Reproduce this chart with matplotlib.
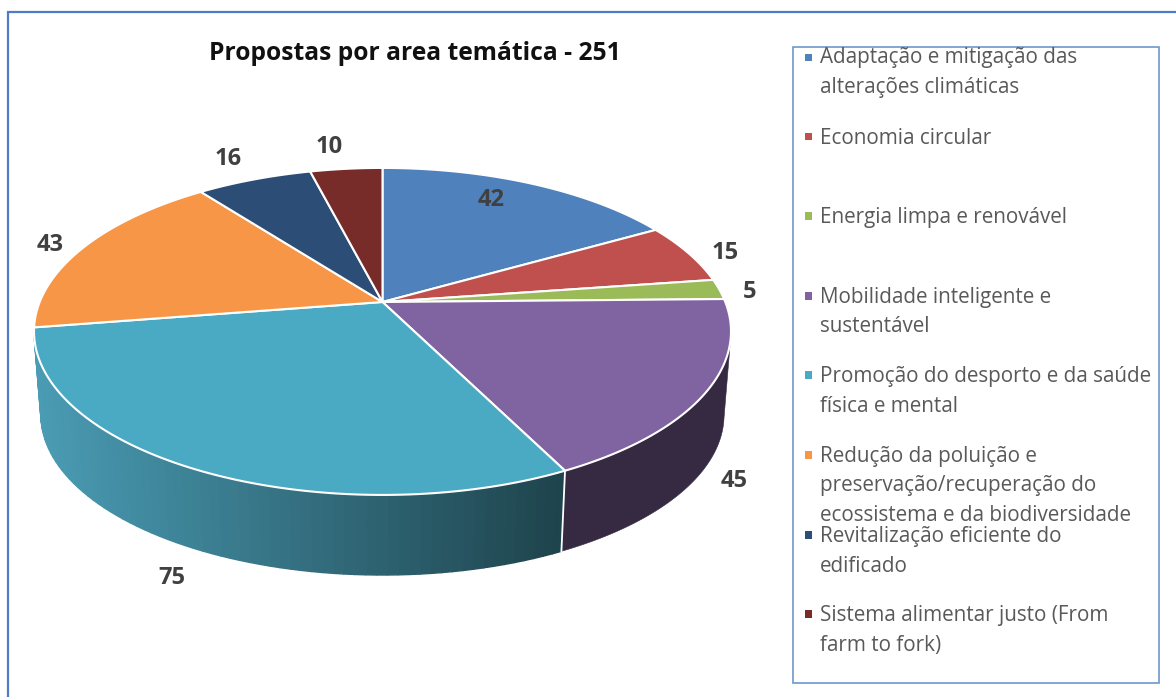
import numpy as np
import matplotlib
matplotlib.use("Agg")
import matplotlib.pyplot as plt
from matplotlib.colors import to_rgb
from matplotlib.patches import Polygon, Rectangle

# ---- data ----
title = "Propostas por area temática - 251"
categories = [
    "Adaptação e mitigação das\nalterações climáticas",
    "Economia circular",
    "Energia limpa e renovável",
    "Mobilidade inteligente e\nsustentável",
    "Promoção do desporto e da saúde\nfísica e mental",
    "Redução da poluição e\npreservação/recuperação do\necossistema e da biodiversidade",
    "Revitalização eficiente do\nedificado",
    "Sistema alimentar justo (From\nfarm to fork)",
]
values = [42, 15, 5, 45, 75, 43, 16, 10]

# ---- style / layout ----
colors = ["#4F81BD", "#BF504D", "#9BBB59", "#8064A2", "#4AA9C3", "#F79646", "#2C4D75", "#772C2A"]
label_xy = [(491, 200), (725, 253), (750, 292), (734, 481), (172, 578), (50, 245), (228, 159), (329, 147)]
legend_first_baseline = [63.5, 144, 223, 303, 382, 462, 542, 621]
legend_marker_y = [57.3, 136.7, 216, 296, 375, 455, 535, 614]
LINE = 29.5
TEXT = "#595959"
FONT = "Open Sans"

# perspective disc model (pixel space)
CX = 382.5
TOP_Y, TOP_A, TOP_C = 302.0, 158.2, 342.8
LOW_Y, LOW_A, LOW_C = 386.0, 155.0, 336.0
K = 0.18
WALL_LIMIT = np.degrees(np.arccos(-0.2))  # where the side wall starts


def project(theta_deg, y0, a, c):
    th = np.radians(theta_deg)
    X, Y = np.sin(th), np.cos(th)
    d = 1 + K * Y
    return CX + c * X / d, y0 - a * Y / d


def top(t):
    return project(t, TOP_Y, TOP_A, TOP_C)


def low(t):
    return project(t, LOW_Y, LOW_A, LOW_C)


fig = plt.figure(figsize=(11.76, 6.97), dpi=100, facecolor="white")
ax = fig.add_axes([0, 0, 1, 1])
ax.set_xlim(0, 1176)
ax.set_ylim(697, 0)
ax.axis("off")

# outer frame
ax.add_patch(Rectangle((7.5, 12), 1180, 700, fc="white", ec="#4F7CC4", lw=1.6, zorder=0))

# slice boundaries
edges = np.concatenate([[0], np.cumsum(values)]) / np.sum(values) * 360.0

# side wall
wall_start, wall_end = WALL_LIMIT, 360 - WALL_LIMIT
x_dark, x_light = 561.0, 40.0
c_dark, c_light = np.array(to_rgb("#1E434C")), np.array(to_rgb("#4A9CB4"))
purple_wall = "#352A41"
teal_idx = 4
for i in range(len(values)):
    a0, a1 = max(edges[i], wall_start), min(edges[i + 1], wall_end)
    if a1 <= a0:
        continue
    if i == teal_idx:
        ts = np.linspace(a0, a1, 70)
        xu, yu = top(ts)
        xl, yl = low(ts)
        for j in range(len(ts) - 1):
            quad = [(xu[j], yu[j]), (xu[j + 1], yu[j + 1]), (xl[j + 1], yl[j + 1]), (xl[j], yl[j])]
            f = np.clip((x_dark - 0.5 * (xl[j] + xl[j + 1])) / (x_dark - x_light), 0, 1)
            col = tuple(c_dark + (c_light - c_dark) * f)
            ax.add_patch(Polygon(quad, closed=True, fc=col, ec=col, lw=1.0, zorder=2))
    else:
        ts = np.linspace(a0, a1, 160)
        xu, yu = top(ts)
        xl, yl = low(ts)
        pts = np.vstack([np.c_[xu, yu], np.c_[xl, yl][::-1]])
        ax.add_patch(Polygon(pts, closed=True, fc=purple_wall, ec=purple_wall, lw=0.4, zorder=2))

# white divider on wall
for e in edges[1:-1]:
    if wall_start < e < wall_end:
        xu, yu = top(e)
        xl, yl = low(e)
        ax.plot([xu, xl], [yu, yl], color="white", lw=1.3, zorder=3)

# top face
for i, col in enumerate(colors):
    ts = np.linspace(edges[i], edges[i + 1], 200)
    xu, yu = top(ts)
    pts = np.vstack([[CX, TOP_Y], np.c_[xu, yu]])
    ax.add_patch(Polygon(pts, closed=True, fc=col, ec="white", lw=1.5, joinstyle="round", zorder=4))

# data labels
for v, (x, y) in zip(values, label_xy):
    ax.text(x, y, str(v), ha="center", va="center", fontsize=17, fontweight="bold",
            color="#404040", family=FONT, zorder=6)

# title
ax.text(415, 54, title, ha="center", va="center", fontsize=17.7, fontweight="bold", color="#111111", family=FONT)

# legend
ax.add_patch(Rectangle((793, 47), 366, 636, fc="white", ec="#6F97CC", lw=1.2, zorder=1))
for name, col, by, my in zip(categories, colors, legend_first_baseline, legend_marker_y):
    ax.add_patch(Rectangle((804.5, my - 3.8), 7.6, 7.6, fc=col, ec="none", zorder=5))
    for k, line in enumerate(name.split("\n")):
        ax.text(820, by + k * LINE, line, ha="left", va="baseline", fontsize=14.9,
                color=TEXT, family=FONT, zorder=6)

fig.savefig("out.png", dpi=100)
